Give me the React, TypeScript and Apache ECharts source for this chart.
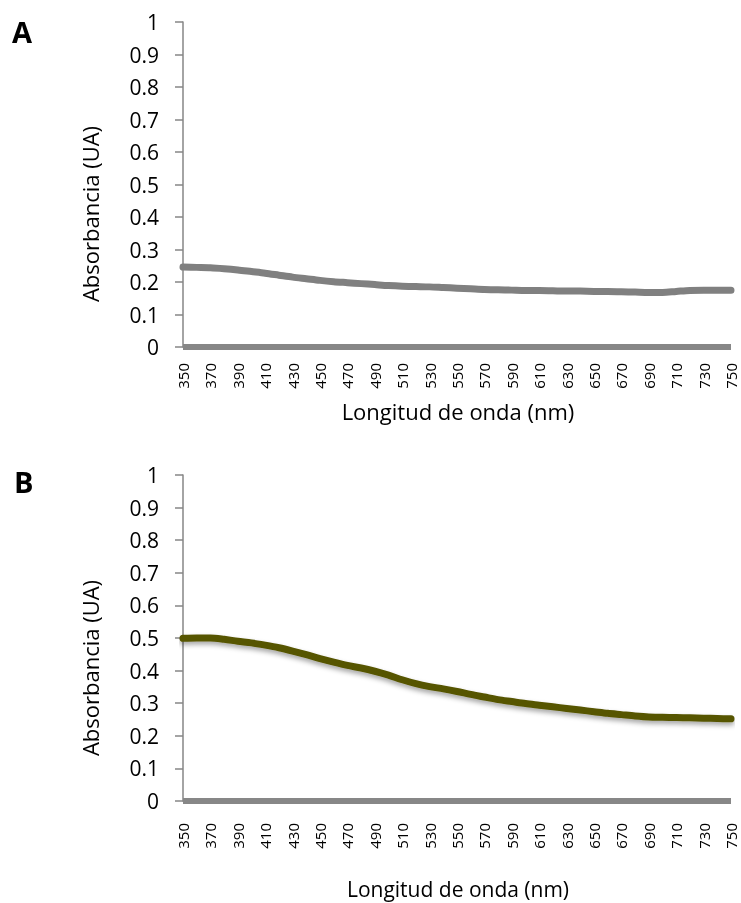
import React, { useEffect, useRef } from "react";
import * as echarts from "echarts";

// Wavelength sampling (nm) and absorbance readings for both samples
const wavelengths = [
  350, 360, 370, 380, 390, 400, 410, 420, 430, 440, 450, 460, 470, 480, 490, 500,
  510, 520, 530, 540, 550, 560, 570, 580, 590, 600, 610, 620, 630, 640, 650, 660,
  670, 680, 690, 700, 710, 720, 730, 740, 750,
];
const absorbanceA = [
  0.246, 0.245, 0.244, 0.241, 0.237, 0.232, 0.227, 0.221, 0.215, 0.21, 0.205, 0.201,
  0.198, 0.195, 0.192, 0.189, 0.187, 0.186, 0.185, 0.183, 0.181, 0.179, 0.177, 0.176,
  0.175, 0.174, 0.174, 0.173, 0.172, 0.172, 0.171, 0.171, 0.17, 0.169, 0.168, 0.168,
  0.171, 0.174, 0.175, 0.175, 0.175,
];
const absorbanceB = [
  0.499, 0.5, 0.5, 0.496, 0.49, 0.485, 0.478, 0.47, 0.46, 0.449, 0.437, 0.426,
  0.416, 0.408, 0.398, 0.386, 0.372, 0.36, 0.351, 0.344, 0.336, 0.327, 0.319, 0.311,
  0.305, 0.299, 0.294, 0.289, 0.284, 0.279, 0.274, 0.269, 0.265, 0.261, 0.258, 0.257,
  0.256, 0.255, 0.254, 0.253, 0.252,
];
const baseline = wavelengths.map(() => 0);

const FONT = "Open Sans";

function makeAxes(gridIndex: number, labelMargin: number) {
  const xAxis = {
    type: "value",
    gridIndex,
    min: 350,
    max: 750,
    interval: 20,
    axisLine: { show: false },
    axisTick: { show: false },
    splitLine: { show: false },
    axisLabel: {
      rotate: 90,
      margin: labelMargin,
      fontFamily: FONT,
      fontSize: 15,
      lineHeight: 13,
      color: "#000",
      showMinLabel: true,
      showMaxLabel: true,
    },
  };
  const yAxis = {
    type: "value",
    gridIndex,
    min: 0,
    max: 1,
    interval: 0.1,
    axisLine: { show: true, onZero: false, lineStyle: { color: "#868686", width: 1.5 } },
    axisTick: { show: true, inside: false, length: 8, lineStyle: { color: "#868686", width: 1.5 } },
    splitLine: { show: false },
    axisLabel: {
      margin: 24,
      fontFamily: FONT,
      fontSize: 21,
      color: "#000",
      formatter: (v: number) => String(Math.round(v * 10) / 10),
    },
  };
  return { xAxis, yAxis };
}

export default function App() {
  const ref = useRef<HTMLDivElement>(null);

  useEffect(() => {
    if (!ref.current) return;
    const chart = echarts.init(ref.current, undefined, { renderer: "svg" });
    const a = makeAxes(0, 16);
    const b = makeAxes(1, 22);
    const pairs = (ys: number[]) => wavelengths.map((w, i) => [w, ys[i]]);

    chart.setOption({
      animation: false,
      grid: [
        { left: 183, right: 10, top: 22, height: 325, containLabel: false },
        { left: 183, right: 10, top: 475, height: 326, containLabel: false },
      ],
      xAxis: [a.xAxis, b.xAxis],
      yAxis: [a.yAxis, b.yAxis],
      graphic: [
        { type: "text", left: 12, top: 17, style: { text: "A", fontFamily: FONT, fontWeight: "bold", fontSize: 29, fill: "#000" } },
        { type: "text", left: 14, top: 467, style: { text: "B", fontFamily: FONT, fontWeight: "bold", fontSize: 29, fill: "#000" } },
        {
          type: "text", x: 90, y: 214, rotation: Math.PI / 2,
          style: { text: "Absorbancia (UA)", fontFamily: FONT, fontSize: 22, fill: "#000", align: "center", verticalAlign: "middle" },
        },
        {
          type: "text", x: 90, y: 668, rotation: Math.PI / 2,
          style: { text: "Absorbancia (UA)", fontFamily: FONT, fontSize: 22, fill: "#000", align: "center", verticalAlign: "middle" },
        },
        {
          type: "text", x: 458, y: 411,
          style: { text: "Longitud de onda (nm)", fontFamily: FONT, fontSize: 22, fill: "#000", align: "center", verticalAlign: "middle" },
        },
        {
          type: "text", x: 458, y: 889,
          style: { text: "Longitud de onda (nm)", fontFamily: FONT, fontSize: 21, fill: "#000", align: "center", verticalAlign: "middle" },
        },
      ],
      series: [
        {
          type: "line", xAxisIndex: 0, yAxisIndex: 0, data: pairs(baseline),
          showSymbol: false, lineStyle: { color: "#878787", width: 6 }, z: 3,
        },
        {
          type: "line", xAxisIndex: 0, yAxisIndex: 0, data: pairs(absorbanceA), smooth: 0.3,
          showSymbol: false, lineStyle: { color: "#808080", width: 7, cap: "round" }, z: 4,
        },
        {
          type: "line", xAxisIndex: 1, yAxisIndex: 1, data: pairs(baseline),
          showSymbol: false, lineStyle: { color: "#878787", width: 6 }, z: 3,
        },
        {
          type: "line", xAxisIndex: 1, yAxisIndex: 1, data: pairs(absorbanceB), smooth: 0.3,
          showSymbol: false,
          lineStyle: {
            color: "#565400", width: 7, cap: "round",
            shadowColor: "rgba(0,0,0,0.35)", shadowBlur: 5, shadowOffsetY: 3,
          },
          z: 4,
        },
      ],
    });
    return () => chart.dispose();
  }, []);

  return <div ref={ref} style={{ position: "fixed", left: 0, top: 0, width: 741, height: 903 }} />;
}
